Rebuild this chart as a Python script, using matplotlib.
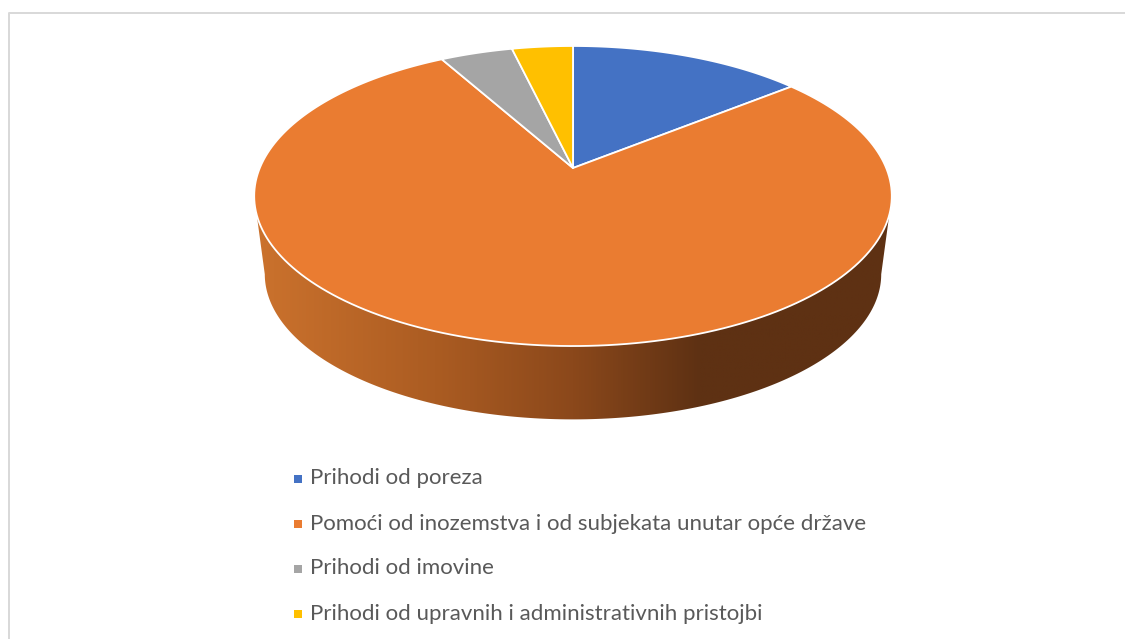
import numpy as np
import matplotlib
matplotlib.use("Agg")
import matplotlib.pyplot as plt
from matplotlib.colors import LinearSegmentedColormap
from matplotlib.patches import PathPatch, Polygon
from matplotlib.path import Path

# shares in percent
labels = [
    "Prihodi od poreza",
    "Pomoći od inozemstva i od subjekata unutar opće države",
    "Prihodi od imovine",
    "Prihodi od upravnih i administrativnih pristojbi",
]
values = [14.2, 77.7, 4.4, 3.7]
colors = ["#4472C4", "#EA7C31", "#A5A5A5", "#FFC000"]

# wall shading, left to right
wall_stops = [(0.0, "#CB722D"), (0.28, "#AB5C22"), (0.5, "#8B481B"), (0.7, "#5E3113"), (1.0, "#5E3113")]

plt.rcParams["font.family"] = ["Lato", "DejaVu Sans"]


def project(theta, cx=573.0, cy=168.0, rx=313.2, ry=144.8, k=0.1867):
    # tilted circle: theta runs clockwise from 12 o'clock
    s, c = np.sin(theta), np.cos(theta)
    w = 1 + k * c
    return cx + rx * s / w, cy - ry * c / w


fig = plt.figure(figsize=(11.25, 6.39), dpi=100)
ax = fig.add_axes([0, 0, 1, 1])
ax.set_xlim(0, 1125)
ax.set_ylim(639, 0)
ax.axis("off")

# chart frame, only top and left are in view
ax.plot([9, 9, 1125], [639, 13, 13], color="#D9D9D9", lw=1.44, solid_capstyle="butt")

# side wall
a1 = np.radians(np.linspace(107.8, 252.2, 200))
a2 = np.radians(np.linspace(259.2, 100.8, 200))
tx, ty = project(a1)
bx, by = project(a2, cy=247.0, rx=302.8, ry=140.2)
wall_xy = np.column_stack([np.r_[tx, bx], np.r_[ty, by]])
wall = Polygon(wall_xy, closed=True, fc="none", ec="none")
ax.add_patch(wall)
cmap = LinearSegmentedColormap.from_list("wall", wall_stops)
img = ax.imshow(np.linspace(0, 1, 512).reshape(1, -1), cmap=cmap, aspect="auto",
                extent=[wall_xy[:, 0].min(), wall_xy[:, 0].max(), 430, 200], zorder=2)
img.set_clip_path(wall)
ax.set_xlim(0, 1125)
ax.set_ylim(639, 0)

# top face
start = 0.0
for val, col in zip(values, colors):
    end = start + val / sum(values) * 2 * np.pi
    t = np.linspace(start, end, 200)
    x, y = project(t)
    verts = np.column_stack([np.r_[573.0, x, 573.0], np.r_[168.0, y, 168.0]])
    codes = [Path.MOVETO] + [Path.LINETO] * (len(verts) - 2) + [Path.CLOSEPOLY]
    ax.add_patch(PathPatch(Path(verts, codes), fc=col, ec="white", lw=1.3, zorder=3, joinstyle="round"))
    start = end

# legend
legend_y = [478.5, 523.5, 568.5, 613.5]
for name, col, ly in zip(labels, colors, legend_y):
    ax.scatter([297.5], [ly], marker="s", s=36, color=col, linewidths=0, zorder=4)
    ax.text(310, ly, name, color="#595959", fontsize=16, va="center", ha="left", zorder=4)

fig.savefig("out.png", dpi=100)
